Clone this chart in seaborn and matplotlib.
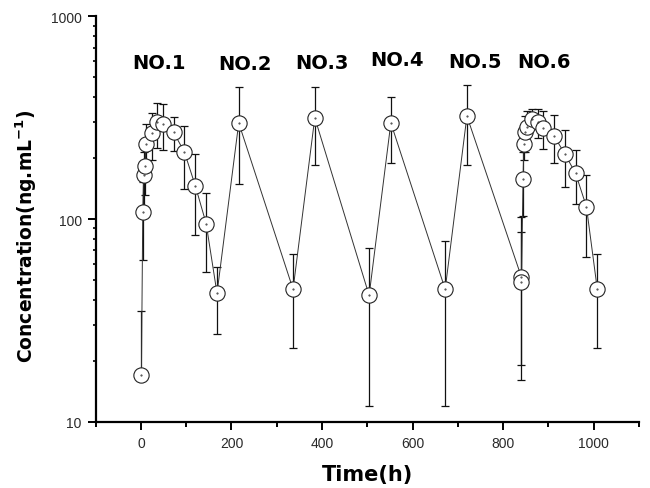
import numpy as np
import pandas as pd
import matplotlib
matplotlib.use("Agg")
import matplotlib.pyplot as plt
import seaborn as sns
from matplotlib.ticker import FixedLocator, LogLocator, NullFormatter, FixedFormatter

# ---- data ----
time_h = [1, 4, 6, 8, 12, 24, 36, 48, 72, 96, 120, 144, 168,
          216, 336, 384, 504, 552, 672, 720,
          840, 840.5, 844, 846, 848, 852, 864, 876, 888, 912, 936, 960, 984, 1008]
conc = [17, 108, 165, 182, 235, 265, 300, 295, 268, 214, 146, 95, 43,
        298, 45, 316, 42, 298, 45, 322,
        52, 49, 158, 235, 268, 285, 313, 300, 281, 258, 210, 168, 115, 45]
err_up = [18, 45, 50, 50, 60, 70, 75, 75, 52, 73, 63, 40, 15,
          148, 22, 134, 30, 102, 33, 135,
          34, 53, 55, 40, 55, 55, 35, 50, 60, 68, 66, 50, 50, 22]
err_dn = [0, 45, 50, 50, 60, 70, 75, 75, 52, 73, 63, 40, 16,
          150, 22, 131, 30, 110, 33, 137,
          36, 30, 55, 40, 55, 55, 35, 50, 60, 68, 66, 50, 50, 22]

dose_labels = ["NO.1", "NO.2", "NO.3", "NO.4", "NO.5", "NO.6"]
dose_label_x = [39, 230, 400, 565, 737, 890]
dose_label_y = [593, 582, 593, 611, 601, 601]

x_major = [0, 200, 400, 600, 800, 1000]
x_minor = [-100, 100, 300, 500, 700, 900, 1100]
y_major = [10, 100, 1000]
y_major_labels = ["10", "100", "1000"]

df = pd.DataFrame({"Time": time_h, "Conc": conc})

# ---- style ----
sns.set_theme(style="ticks")
plt.rcParams["font.family"] = ["Liberation Sans", "DejaVu Sans"]
plt.rcParams["mathtext.fontset"] = "custom"
plt.rcParams["mathtext.rm"] = "DejaVu Sans"
plt.rcParams["mathtext.bf"] = "DejaVu Sans:bold"

bold_font = ["DejaVu Sans"]

fig = plt.figure(figsize=(6.5, 4.89), dpi=100)
ax = fig.add_axes([0.1472, 0.1356, 0.8358, 0.8290])

ax.errorbar(time_h, conc, yerr=[err_dn, err_up], fmt="none",
            ecolor="#111111", elinewidth=0.9, capsize=2.8, capthick=0.9, zorder=2)

sns.lineplot(data=df, x="Time", y="Conc", sort=False, estimator=None,
             color="#333333", linewidth=0.7, marker="o", markersize=11,
             markerfacecolor="white", markeredgecolor="#222222",
             markeredgewidth=0.8, ax=ax, zorder=3)
ax.plot(time_h, conc, linestyle="none", marker=".", markersize=1.0,
        color="#333333", zorder=4)

for lab, lx, ly in zip(dose_labels, dose_label_x, dose_label_y):
    ax.text(lx, ly, lab, ha="center", va="center", fontsize=14,
            fontweight="bold", color="black", family=bold_font)

ax.set_yscale("log")
ax.set_ylim(10, 1000)
ax.set_xlim(-100, 1100)

ax.xaxis.set_major_locator(FixedLocator(x_major))
ax.xaxis.set_minor_locator(FixedLocator(x_minor))
ax.yaxis.set_major_locator(FixedLocator(y_major))
ax.yaxis.set_major_formatter(FixedFormatter(y_major_labels))
ax.yaxis.set_minor_locator(LogLocator(base=10, subs=np.arange(2, 10)))
ax.yaxis.set_minor_formatter(NullFormatter())

for s in ["top", "right"]:
    ax.spines[s].set_visible(False)
for s in ["left", "bottom"]:
    ax.spines[s].set_linewidth(1.6)
    ax.spines[s].set_color("black")

ax.tick_params(axis="both", which="major", direction="out", length=6,
               width=1.4, colors="black", labelsize=10, labelcolor="#2a2a2a", pad=4)
ax.tick_params(axis="y", which="minor", direction="out", length=2.5,
               width=1.2, colors="black")
ax.tick_params(axis="x", which="minor", direction="out", length=3.5,
               width=1.4, colors="black")

ax.set_xlabel("Time(h)", fontsize=15, fontweight="bold", family=bold_font,
              color="black")
ax.set_ylabel(r"Concentration(ng.mL$^{\mathbf{-1}}$)", fontsize=13.5,
              fontweight="bold", family=bold_font, color="black")
ax.xaxis.set_label_coords(0.501, -0.105)
ax.yaxis.set_label_coords(-0.105, 0.46)

fig.savefig("out.png", dpi=100)
